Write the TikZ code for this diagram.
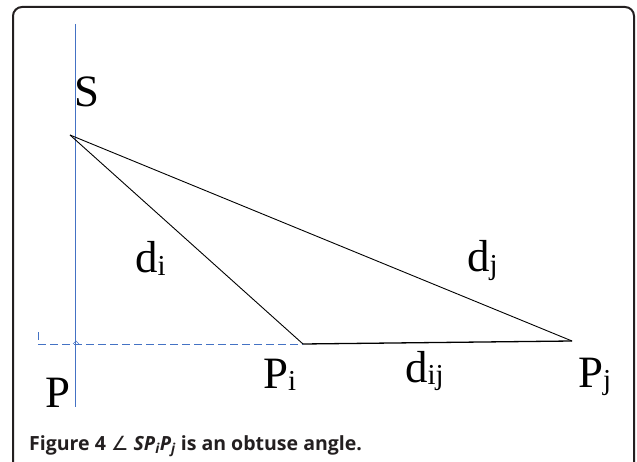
\documentclass[tikz,border=0pt]{standalone}
\usepackage{fontspec}
\setmainfont{Liberation Serif}
\newfontfamily\capfont{Open Sans}
\newfontfamily\symfont{DejaVu Sans}
\definecolor{axisblue}{HTML}{4472C4}
\definecolor{framegray}{HTML}{231F20}
\newcommand{\subtxt}[1]{\raisebox{-2.5bp}{\fontsize{29}{29}\selectfont #1}}
\begin{document}
\begin{tikzpicture}[x=1bp,y=-1bp,
  lbl/.style={anchor=base west,inner sep=0pt,font=\fontsize{45}{45}\selectfont},
  edge/.style={black,line width=0.9bp},
  axis/.style={axisblue,line width=1.4bp},
  proj/.style={axisblue,line width=0.9bp,dash pattern=on 8bp off 4bp},
  frame/.style={framegray,line width=2bp,rounded corners=9bp}]
\path[use as bounding box] (0,0) rectangle (637,462);
\begin{scope}
\clip (0,0) rectangle (637,462);
\draw[frame] (13,7) rectangle (634,475);
\end{scope}
% points
\coordinate (S) at (70,135);
\coordinate (Pi) at (303,344);
\coordinate (Pj) at (572,341);
\coordinate (axtop) at (75.5,24);
\coordinate (axbot) at (75.5,407);
\coordinate (tick) at (38,332);
\coordinate (foot) at (38,344);
% axis
\draw[axis] (axtop) -- (axbot);
% projection (dashed)
\draw[proj] (tick) -- (foot) -- (Pi);
\draw[axisblue,line width=0.7bp] (73,344) -- (76,341) -- (79,344);
% triangle
\draw[edge] (S) -- (Pi);
\draw[edge] (S) -- (Pj);
\draw[edge,line width=1.3bp] (Pi) -- (Pj);
% labels
\node[lbl] (lS) at (74,107) {S};
\node[lbl] (lP) at (45,407) {P};
\node[lbl] (lPi) at (263,388) {P\subtxt{i}};
\node[lbl] (lPj) at (578,387) {P\subtxt{j}};
\node[lbl] (ldi) at (135,273) {d\subtxt{i}};
\node[lbl] (ldj) at (467,272) {d\subtxt{j}};
\node[lbl] (ldij) at (405,382) {d\subtxt{ij}};
% caption
\node[anchor=base west,inner sep=0pt,font=\capfont\bfseries\fontsize{19.6}{19.6}\selectfont,text=framegray] (cap) at (29,450)
  {Figure 4 {\symfont\mdseries ∠} \textit{SP\textsubscript{i}P\textsubscript{j}} is an obtuse angle.};
\end{tikzpicture}
\end{document}
